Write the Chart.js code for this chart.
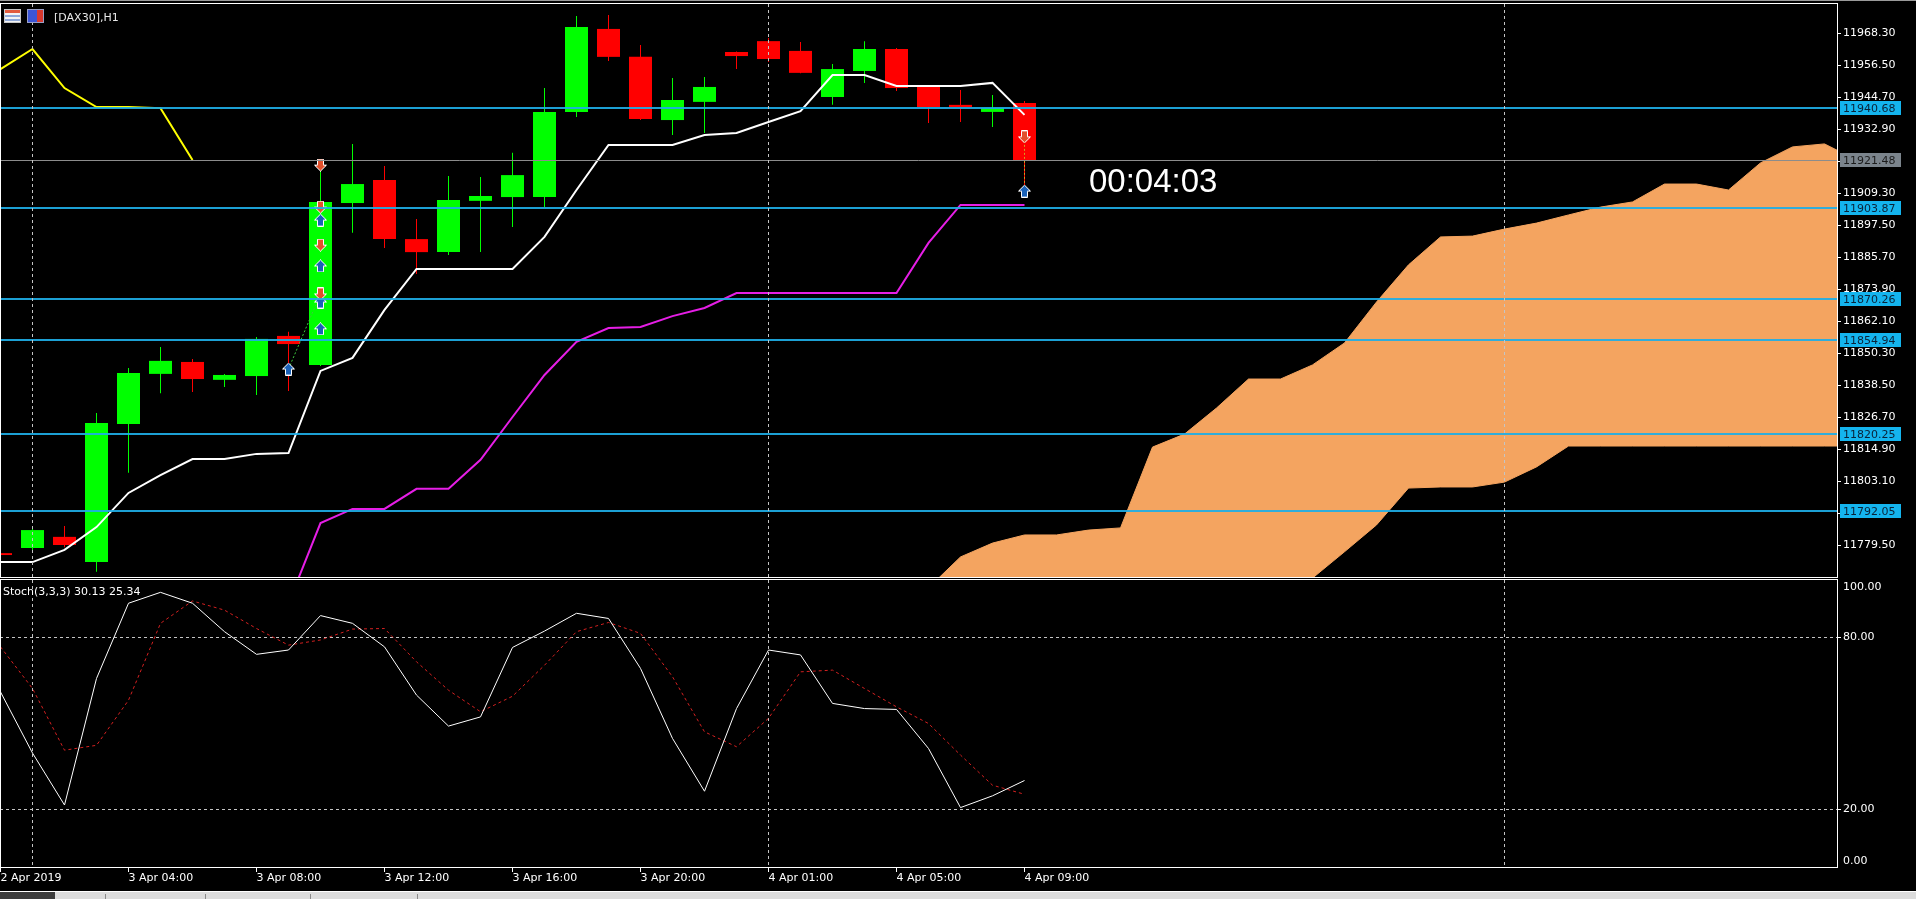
<!DOCTYPE html>
<html>
<head>
<meta charset="utf-8">
<title>DAX30,H1</title>
<script src="https://cdn.jsdelivr.net/npm/chart.js@4.4.1/dist/chart.umd.min.js"></script>
<style>
  html, body { margin: 0; padding: 0; background: #000; width: 1916px; height: 899px; overflow: hidden; }
  body { position: relative; font-family: 'DejaVu Sans', sans-serif; color: #fff; }
  canvas { position: absolute; left: 0; }
  #priceChart { top: 0; }
  #stochChart { top: 578px; }
  .frame { position: absolute; box-sizing: border-box; border: 1px solid #fff; pointer-events: none; }
  #topline { position: absolute; left: 0; top: 0; width: 1916px; height: 1px; background: #9a9a9a; }
  .icon { position: absolute; top: 9px; width: 17px; height: 14px; box-sizing: border-box; }
  #ico1 { left: 4px; background: linear-gradient(#e25a3c 0 3px, #f3f3f3 3px 5px, #8fa8d8 5px 7px, #f3f3f3 7px 9px, #8fa8d8 9px 11px, #f3f3f3 11px); border: 1px solid #c8c8c8; }
  #ico2 { left: 27px; background: linear-gradient(90deg, #3b55d6 0 9px, #d8382e 9px); border: 1px solid #9aa0c8; }
  #symbol { position: absolute; left: 54px; top: 11px; font-size: 11px; line-height: 13px; color: #e8e8e8; }
  #timer { position: absolute; left: 1089px; top: 164px; font-family: 'Liberation Sans', sans-serif; font-size: 33px; line-height: 33px; color: #fff; }
  #stochTitle { position: absolute; left: 3px; top: 585px; font-size: 11px; line-height: 13px; color: #fff; }
  #tabs { position: absolute; left: 0; top: 891px; width: 1916px; height: 8px; background: #dcdcdc; border-top: 1px solid #fff; box-sizing: border-box; }
  #tabs .dark { position: absolute; left: 0; top: 0; width: 55px; height: 8px; background: #3c3c3c; }
  #tabs .sep { position: absolute; top: 2px; width: 1px; height: 6px; background: #8a8a8a; }
</style>
</head>
<body>
<div id="topline"></div>
<canvas id="priceChart" width="1916" height="577"></canvas>
<canvas id="stochChart" width="1916" height="312"></canvas>
<div class="frame" style="left:0;top:3px;width:1838px;height:575px"></div>
<div class="frame" style="left:0;top:579px;width:1838px;height:289px"></div>
<div class="icon" id="ico1"></div>
<div class="icon" id="ico2"></div>
<div id="symbol">[DAX30],H1</div>
<div id="timer">00:04:03</div>
<div id="stochTitle">Stoch(3,3,3) 30.13 25.34</div>
<div id="tabs"><div class="dark"></div><div class="sep" style="left:105px"></div><div class="sep" style="left:205px"></div><div class="sep" style="left:310px"></div><div class="sep" style="left:417px"></div></div>
<script>
// hourly bars, 2 Apr 23:00 .. 4 Apr 09:00
const barTimes = ['2 Apr 23:00',
  '3 Apr 01:00','3 Apr 02:00','3 Apr 03:00','3 Apr 04:00','3 Apr 05:00','3 Apr 06:00','3 Apr 07:00','3 Apr 08:00',
  '3 Apr 09:00','3 Apr 10:00','3 Apr 11:00','3 Apr 12:00','3 Apr 13:00','3 Apr 14:00','3 Apr 15:00','3 Apr 16:00',
  '3 Apr 17:00','3 Apr 18:00','3 Apr 19:00','3 Apr 20:00','3 Apr 21:00','3 Apr 22:00','3 Apr 23:00',
  '4 Apr 01:00','4 Apr 02:00','4 Apr 03:00','4 Apr 04:00','4 Apr 05:00','4 Apr 06:00','4 Apr 07:00','4 Apr 08:00','4 Apr 09:00'];

const open  = [11776.5, 11778.4, 11782.5, 11773.2, 11824.1, 11842.6, 11847.0, 11840.4, 11841.8, 11856.6, 11845.9,
               11905.6, 11914.1, 11892.3, 11887.5, 11906.4, 11907.8, 11907.8, 11939.2, 11969.8, 11959.5, 11936.2,
               11942.9, 11961.3, 11965.3, 11961.7, 11944.7, 11954.3, 11962.4, 11948.4, 11941.8, 11939.2, 11942.5];
const high  = [11777.0, 11786.5, 11786.5, 11828.2, 11844.8, 11852.5, 11848.1, 11842.6, 11856.2, 11858.1, 11919.6,
               11927.4, 11919.3, 11899.7, 11915.6, 11915.2, 11924.1, 11948.0, 11974.6, 11974.9, 11963.9, 11951.7,
               11952.1, 11961.5, 11966.5, 11965.0, 11956.9, 11965.3, 11962.8, 11948.6, 11947.3, 11945.4, 11943.2];
const low   = [11775.0, 11776.6, 11778.7, 11769.6, 11806.1, 11835.5, 11835.9, 11837.8, 11834.8, 11836.3, 11845.5,
               11894.6, 11889.0, 11879.4, 11886.4, 11887.5, 11896.8, 11904.1, 11937.3, 11958.0, 11936.2, 11930.7,
               11931.4, 11955.0, 11957.6, 11953.5, 11941.8, 11949.9, 11946.9, 11935.1, 11935.5, 11933.6, 11910.4];
const close = [11775.8, 11785.0, 11779.5, 11824.5, 11842.9, 11847.4, 11840.7, 11842.2, 11855.5, 11853.6, 11906.0,
               11912.6, 11892.3, 11887.5, 11906.7, 11908.2, 11915.9, 11939.2, 11970.5, 11959.5, 11936.6, 11943.6,
               11948.4, 11959.8, 11958.7, 11953.6, 11955.0, 11962.4, 11948.0, 11941.0, 11941.0, 11940.6, 11921.48];

// Ichimoku
const tenkan = [11773.2, 11773.2, 11777.7, 11786.1, 11798.7, 11805.3, 11811.2, 11811.2, 11813.1, 11813.4, 11843.7,
                11848.5, 11866.2, 11881.3, 11881.3, 11881.3, 11881.3, 11893.1, 11910.4, 11927.0, 11927.0, 11927.0,
                11930.7, 11931.4, 11935.5, 11939.5, 11952.8, 11952.8, 11948.8, 11948.8, 11948.8, 11949.9, 11938.1];
const kijun  = [null, null, null, null, null, null, null, null, null, 11758.0, 11787.6,
                11792.8, 11792.8, 11800.2, 11800.2, 11810.9, 11826.7, 11842.2, 11854.4, 11859.5, 11859.9, 11863.9,
                11866.9, 11872.4, 11872.4, 11872.4, 11872.4, 11872.4, 11872.4, 11890.9, 11904.9, 11904.9, 11904.9];
const chikou = [11955.0, 11962.4, 11948.0, 11941.0, 11941.0, 11940.6, 11921.48];
const spanStart = 29;
const spanA = [11763.7, 11775.1, 11780.2, 11783.2, 11783.2, 11785.0, 11785.8, 11815.6, 11820.4, 11830.0,
               11840.7, 11840.7, 11845.9, 11854.0, 11869.1, 11882.8, 11893.1, 11893.4, 11896.0, 11898.2,
               11901.2, 11904.1, 11906.0, 11912.6, 11912.6, 11910.4, 11920.4, 11926.3, 11927.4, 11921.5];
const spanB = [11752.0, 11752.0, 11752.0, 11752.0, 11754.0, 11755.0, 11755.0, 11756.0, 11758.0, 11760.0,
               11762.0, 11764.0, 11767.3, 11777.0, 11786.9, 11800.5, 11800.9, 11800.9, 11802.7, 11808.3,
               11816.0, 11816.0, 11816.0, 11816.0, 11816.0, 11816.0, 11816.0, 11816.0, 11816.0, 11816.0];

// Stochastic (3,3,3)
const stochK = [61.0, 39.7, 21.6, 65.7, 91.9, 95.7, 91.9, 82.0, 74.1, 75.6, 87.6, 84.9, 76.7, 59.9, 49.1, 52.3, 76.5,
                82.2, 88.4, 86.6, 69.2, 44.8, 26.4, 55.2, 75.6, 73.9, 57.0, 55.2, 54.9, 41.3, 20.7, 24.8, 30.13];
const stochD = [76.7, 62.2, 40.7, 42.4, 58.1, 84.9, 92.7, 89.5, 83.1, 77.3, 79.1, 82.9, 83.1, 71.5, 61.6, 54.1, 59.5,
                70.3, 82.0, 85.2, 81.4, 66.3, 47.1, 41.9, 51.8, 68.0, 68.6, 62.2, 55.8, 50.0, 39.0, 28.5, 25.34];

// horizontal levels, bid, trades
const levels = [11940.68, 11903.87, 11870.26, 11854.94, 11820.25, 11792.05];
const bid = 11921.48;
const buyArrows  = [[9, 11844.4], [10, 11899.3], [10, 11882.4], [10, 11869.1], [10, 11859.2], [32, 11910.0]];
const sellArrows = [[10, 11919.6], [10, 11904.1], [10, 11890.1], [10, 11872.1], [32, 11930.0]];
const tradeLines = [[9, 11844.4, 10, 11872.1], [32, 11930.0, 32, 11910.0]];

// axes
const priceTicks = [11968.30, 11956.50, 11944.70, 11932.90, 11921.10, 11909.30, 11897.50, 11885.70, 11873.90,
                    11862.10, 11850.30, 11838.50, 11826.70, 11814.90, 11803.10, 11791.30, 11779.50];
const stochTicks = [0, 20, 80, 100];
const xTickIdx  = [0, 4, 8, 12, 16, 20, 24, 28, 32];
const xTickText = ['2 Apr 2019', '3 Apr 04:00', '3 Apr 08:00', '3 Apr 12:00', '3 Apr 16:00',
                   '3 Apr 20:00', '4 Apr 01:00', '4 Apr 05:00', '4 Apr 09:00'];
const daySeparators = [1, 24, 47];

const X_MIN = -0.015625, X_MAX = 57.390625;   // 32 px per bar
const BULL = '#00ff00', BEAR = '#ff0000';
const LEVEL_LINE = '#1eaee6', LEVEL_BOX = '#14b4ee';
const NONE = 'rgba(0,0,0,0)';

Chart.defaults.font.family = "'DejaVu Sans', sans-serif";
Chart.defaults.font.size = 11;
Chart.defaults.color = '#ffffff';

const idx = close.map((v, i) => i);
const candleColor = c => (c.dataIndex === undefined) ? BULL : (close[c.dataIndex] >= open[c.dataIndex] ? BULL : BEAR);

function arrowImage(up, fill) {
  const c = document.createElement('canvas');
  c.width = 13; c.height = 13;
  const g = c.getContext('2d');
  if (!up) { g.translate(0, 13); g.scale(1, -1); }
  g.beginPath();
  g.moveTo(6.5, 0.5); g.lineTo(12.5, 6.5); g.lineTo(9.5, 6.5); g.lineTo(9.5, 12.5);
  g.lineTo(3.5, 12.5); g.lineTo(3.5, 6.5); g.lineTo(0.5, 6.5); g.closePath();
  g.fillStyle = fill; g.fill();
  g.strokeStyle = '#ffffff'; g.lineWidth = 1; g.stroke();
  return c;
}
const upArrow = arrowImage(true, '#1a62b8');
const downArrow = arrowImage(false, '#e2502c');

function xAxis(showLabels) {
  return {
    type: 'linear', min: X_MIN, max: X_MAX, offset: false, bounds: 'data',
    afterBuildTicks: s => { s.ticks = []; for (let i = 0; i <= 57; i++) s.ticks.push({ value: i }); },
    grid: {
      offset: false, z: showLabels ? -1 : 1, lineWidth: 1,
      drawTicks: showLabels, tickLength: 5, tickBorderDash: [],
      color: c => (c.tick && daySeparators.includes(c.tick.value)) ? '#c4c4c4' : NONE,
      tickColor: c => (c.tick && xTickIdx.includes(c.tick.value)) ? '#ffffff' : NONE
    },
    border: { display: false, dash: [3, 3] },
    ticks: {
      display: showLabels, autoSkip: false, maxRotation: 0, minRotation: 0, align: 'start', padding: 0,
      color: '#ffffff',
      callback: v => { const k = xTickIdx.indexOf(v); return k >= 0 ? xTickText[k] : ''; }
    },
    afterFit: s => { s.height = showLabels ? 23 : 0; s.paddingLeft = 0; s.paddingRight = 0; }
  };
}

const levelLines = {
  id: 'levelLines',
  afterDatasetsDraw(chart) {
    const { ctx, chartArea: a, scales: { y } } = chart;
    ctx.save();
    ctx.strokeStyle = LEVEL_LINE; ctx.lineWidth = 2; ctx.globalAlpha = 0.92;
    levels.forEach(v => {
      const py = Math.round(y.getPixelForValue(v));
      ctx.beginPath(); ctx.moveTo(a.left, py); ctx.lineTo(a.right, py); ctx.stroke();
    });
    ctx.globalAlpha = 1;
    const pb = Math.round(y.getPixelForValue(bid)) + 0.5;
    ctx.strokeStyle = '#8c8c8c'; ctx.lineWidth = 1;
    ctx.beginPath(); ctx.moveTo(a.left, pb); ctx.lineTo(a.right, pb); ctx.stroke();
    ctx.restore();
  },
  afterDraw(chart) {
    const { ctx, chartArea: a, scales: { y } } = chart;
    ctx.save();
    ctx.font = "11px 'DejaVu Sans'";
    ctx.textBaseline = 'middle';
    const tag = (v, bg, fg) => {
      const py = Math.round(y.getPixelForValue(v));
      ctx.fillStyle = bg; ctx.fillRect(a.right + 3, py - 7, 61, 14);
      ctx.fillStyle = fg; ctx.fillText(v.toFixed(2), a.right + 6, py + 1);
    };
    levels.forEach(v => tag(v, LEVEL_BOX, '#0a2238'));
    tag(bid, '#7b848c', '#1c1c1c');
    ctx.restore();
  }
};

const pts = (arr, start) => arr.map((v, i) => ({ x: i + (start || 0), y: v })).filter(p => p.y !== null);

const priceDatasets = [
  { type: 'line', label: 'Senkou A', data: pts(spanA, spanStart), borderColor: '#f4a460', borderWidth: 1,
    backgroundColor: '#f4a460', fill: '+1', pointRadius: 0, tension: 0, order: 20 },
  { type: 'line', label: 'Senkou B', data: pts(spanB, spanStart), borderColor: '#f4a460', borderWidth: 1,
    fill: false, pointRadius: 0, tension: 0, order: 19 },
  { type: 'bar', label: 'wick', data: idx.map(i => ({ x: i, y: [low[i], high[i]] })),
    backgroundColor: candleColor, barThickness: 1, grouped: false, borderWidth: 0, inflateAmount: 0, order: 12 },
  { type: 'bar', label: 'body', data: idx.map(i => ({ x: i, y: [open[i], close[i]] })),
    backgroundColor: candleColor, barThickness: 23, grouped: false, borderWidth: 0, inflateAmount: 0,
    minBarLength: 1, order: 11 },
  { type: 'line', label: 'Chikou', data: pts(chikou), borderColor: '#ffff00', borderWidth: 2, pointRadius: 0, tension: 0, order: 8 },
  { type: 'line', label: 'Kijun', data: pts(kijun), borderColor: '#e61ee6', borderWidth: 2, pointRadius: 0, tension: 0, order: 7 },
  { type: 'line', label: 'Tenkan', data: pts(tenkan), borderColor: '#ffffff', borderWidth: 2, pointRadius: 0, tension: 0, order: 6 }
];
tradeLines.forEach((t, k) => priceDatasets.push({
  type: 'line', label: 'trade' + k, data: [{ x: t[0], y: t[1] }, { x: t[2], y: t[3] }],
  borderColor: k === 0 ? '#3cc83c' : '#d4a020', borderWidth: 1, borderDash: [2, 2], pointRadius: 0, order: 4
}));
priceDatasets.push(
  { type: 'line', label: 'buy', data: buyArrows.map(p => ({ x: p[0], y: p[1] })), showLine: false,
    pointStyle: upArrow, pointRadius: 6, order: 2 },
  { type: 'line', label: 'sell', data: sellArrows.map(p => ({ x: p[0], y: p[1] })), showLine: false,
    pointStyle: downArrow, pointRadius: 6, order: 1 }
);

new Chart(document.getElementById('priceChart'), {
  type: 'bar',
  data: { datasets: priceDatasets },
  options: {
    responsive: false, animation: false, devicePixelRatio: 1,
    layout: { autoPadding: false, padding: { top: 4, left: 0, right: 0, bottom: 0 } },
    plugins: { legend: { display: false }, tooltip: { enabled: false } },
    scales: {
      x: xAxis(false),
      y: {
        type: 'linear', position: 'right', min: 11767.70, max: 11978.994, bounds: 'data',
        afterBuildTicks: s => { s.ticks = priceTicks.map(v => ({ value: v })); },
        ticks: { color: '#ffffff', padding: 2, autoSkip: false, callback: v => v.toFixed(2) },
        grid: { drawOnChartArea: false, drawTicks: true, tickLength: 4, tickColor: '#ffffff', color: '#ffffff' },
        border: { display: false },
        afterFit: s => { s.width = 79; s.paddingTop = 0; s.paddingBottom = 0; }
      }
    }
  },
  plugins: [levelLines]
});

new Chart(document.getElementById('stochChart'), {
  type: 'line',
  data: {
    datasets: [
      { label: 'Main', data: pts(stochK), borderColor: '#ffffff', borderWidth: 1, pointRadius: 0, tension: 0 },
      { label: 'Signal', data: pts(stochD), borderColor: '#d42020', borderWidth: 1, borderDash: [3, 3], pointRadius: 0, tension: 0 }
    ]
  },
  options: {
    responsive: false, animation: false, devicePixelRatio: 1,
    layout: { autoPadding: false, padding: { top: 2, left: 0, right: 0, bottom: 0 } },
    plugins: { legend: { display: false }, tooltip: { enabled: false } },
    scales: {
      x: xAxis(true),
      y: {
        type: 'linear', position: 'right', min: 0, max: 100, bounds: 'data',
        // edge labels are pulled inside the pane like the terminal does
        afterBuildTicks: s => { s.ticks = stochTicks.map(v => ({ value: Math.min(97.6, Math.max(2.1, v)) })); },
        ticks: { color: '#ffffff', padding: 2, autoSkip: false, callback: (v, i) => stochTicks[i].toFixed(2) },
        grid: {
          drawOnChartArea: true, drawTicks: true, tickLength: 4, tickBorderDash: [],
          color: c => (c.tick && (c.tick.value === 20 || c.tick.value === 80)) ? '#c4c4c4' : NONE,
          tickColor: c => (c.tick && (c.tick.value === 20 || c.tick.value === 80)) ? '#ffffff' : NONE
        },
        border: { display: false, dash: [3, 3] },
        afterFit: s => { s.width = 79; s.paddingTop = 0; s.paddingBottom = 0; }
      }
    }
  }
});
</script>
</body>
</html>
